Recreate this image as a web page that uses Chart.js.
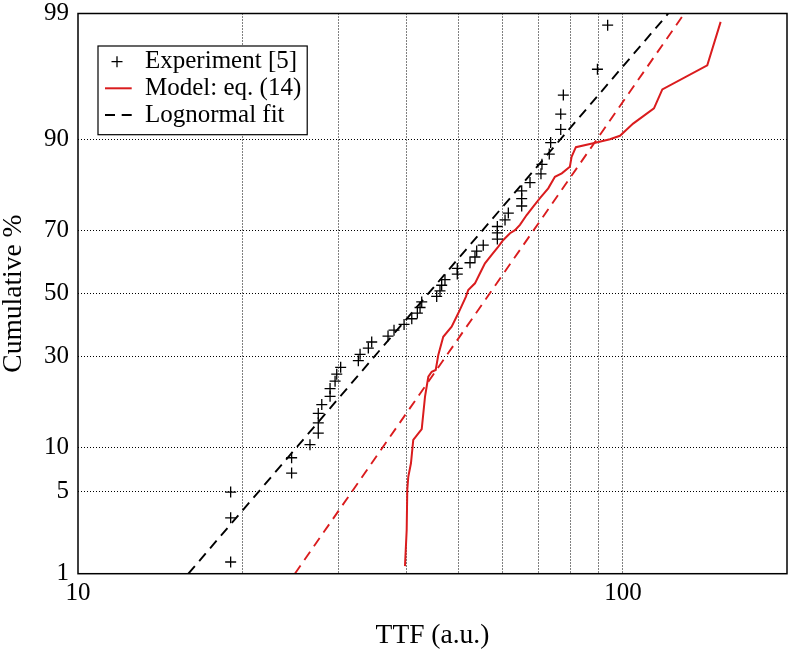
<!DOCTYPE html>
<html><head><meta charset="utf-8">
<script src="https://cdn.jsdelivr.net/npm/chart.js@4.4.1/dist/chart.umd.min.js"></script>
<style>html,body{margin:0;padding:0;background:#fff}#wrap{width:788px;height:652px;position:relative}</style>
</head><body><div id="wrap"><canvas id="c" width="788" height="652"></canvas></div>
<script>
// ---- data ----
const expTTF = [19.06,19.06,19.06,24.66,24.66,26.65,27.60,27.60,27.60,28.01,29.01,29.01,29.63,29.84,30.34,32.69,32.93,34.10,34.59,37.06,38.01,39.66,40.97,41.95,42.43,42.73,45.52,46.16,46.49,47.14,49.66,49.66,52.40,53.51,53.90,55.42,58.82,58.82,58.82,60.76,61.61,65.19,65.19,65.19,67.52,70.72,71.02,73.25,73.68,76.88,76.88,77.73,89.78,93.74];
const expPct = [1.29,3.13,4.96,6.80,8.64,10.48,12.32,14.15,15.99,17.83,19.67,21.51,23.35,25.18,27.02,28.86,30.70,32.54,34.38,36.21,38.05,39.89,41.73,43.57,45.40,47.24,49.08,50.92,52.76,54.60,56.43,58.27,60.11,61.95,63.79,65.63,67.46,69.30,71.14,72.98,74.82,76.65,78.49,80.33,82.17,84.01,85.85,87.68,89.52,91.36,93.20,95.04,96.88,98.71];
const modelTTF = [39.81,40.10,40.20,40.37,40.83,41.23,42.73,43.33,43.94,44.57,45.33,45.83,46.80,48.49,49.86,51.51,52.01,53.51,54.66,55.82,57.42,59.06,60.32,62.05,63.37,64.71,66.57,68.45,70.42,72.93,75.02,77.22,79.91,80.49,81.96,88.21,94.65,98.74,104.4,114.0,118.1,142.8,151.1];
const modelPct = [1.18,2.48,5.14,6.41,7.94,11.2,13.0,19.6,24.5,25.8,26.3,30.5,36.0,39.2,43.5,49.0,51.2,53.4,56.7,59.9,62.6,65.2,67.2,69.2,70.1,71.6,74.3,76.5,78.6,80.9,83.4,84.1,85.4,87.2,88.8,89.4,90.0,90.5,92.1,93.8,95.5,97.1,98.8];
const fitTTF = [15.94, 121.1];
const fitPct = [1, 99];
const modelFitTTF = [25.0, 129.6];
const modelFitPct = [1, 99];
const yTickPct = [1, 5, 10, 30, 50, 70, 90, 99];
const xTickVals = [10, 20, 30, 40, 50, 60, 70, 80, 90, 100, 200];
const xTickLabels = {10: '10', 100: '100'};
const seriesLabels = ['Experiment [5]', 'Model: eq. (14)', 'Lognormal fit'];
const xTitle = 'TTF (a.u.)';
const yTitle = 'Cumulative %';

// inverse normal CDF (probability scale)
function probit(p){
  const a=[-3.969683028665376e+01,2.209460984245205e+02,-2.759285104469687e+02,1.383577518672690e+02,-3.066479806614716e+01,2.506628277459239e+00];
  const b=[-5.447609879822406e+01,1.615858368580409e+02,-1.556989798598866e+02,6.680131188771972e+01,-1.328068155288572e+01];
  const c=[-7.784894002430293e-03,-3.223964580411365e-01,-2.400758277161838e+00,-2.549732539343734e+00,4.374664141464968e+00,2.938163982698783e+00];
  const d=[7.784695709041462e-03,3.224671290700398e-01,2.445134137142996e+00,3.754408661907416e+00];
  const pl=0.02425, ph=1-pl; let q,r;
  if(p<pl){q=Math.sqrt(-2*Math.log(p));return (((((c[0]*q+c[1])*q+c[2])*q+c[3])*q+c[4])*q+c[5])/((((d[0]*q+d[1])*q+d[2])*q+d[3])*q+1);}
  if(p<=ph){q=p-0.5;r=q*q;return (((((a[0]*r+a[1])*r+a[2])*r+a[3])*r+a[4])*r+a[5])*q/(((((b[0]*r+b[1])*r+b[2])*r+b[3])*r+b[4])*r+1);}
  q=Math.sqrt(-2*Math.log(1-p));return -(((((c[0]*q+c[1])*q+c[2])*q+c[3])*q+c[4])*q+c[5])/((((d[0]*q+d[1])*q+d[2])*q+d[3])*q+1);
}
const pts = (xs, ps) => xs.map((x, i) => ({x: x, y: probit(ps[i] / 100)}));

const RED = 'rgb(218,28,30)';
const FONT = "'Liberation Serif', 'Times New Roman', serif";
const DASH = [10, 6.7];

const framePlugin = {
  id: 'frameLegend',
  afterDatasetsDraw(chart){
    const {ctx, chartArea: a} = chart;
    ctx.save();
    ctx.strokeStyle = '#000'; ctx.lineWidth = 1.5; ctx.setLineDash([]);
    ctx.strokeRect(a.left, a.top, a.right - a.left, a.bottom - a.top);
    ctx.restore();
  },
  afterDraw(chart){
    const {ctx, chartArea: a} = chart;
    ctx.save();
    ctx.font = "25px " + FONT;
    const bx = a.left + 20, by = a.top + 32.5;
    const textX = bx + 47;
    let maxW = 0;
    seriesLabels.forEach(t => { maxW = Math.max(maxW, ctx.measureText(t).width); });
    const bw = textX + maxW + 6 - bx, bh = 88.7;
    ctx.fillStyle = '#fff';
    ctx.fillRect(bx, by, bw, bh);
    ctx.strokeStyle = '#000'; ctx.lineWidth = 1.2;
    ctx.strokeRect(bx, by, bw, bh);
    const rows = [by + 15.7, by + 42.3, by + 69];
    ctx.lineWidth = 1.3;
    ctx.beginPath();
    ctx.moveTo(bx + 19 - 5.5, rows[0]); ctx.lineTo(bx + 19 + 5.5, rows[0]);
    ctx.moveTo(bx + 19, rows[0] - 5.5); ctx.lineTo(bx + 19, rows[0] + 5.5);
    ctx.stroke();
    ctx.strokeStyle = RED; ctx.lineWidth = 2;
    ctx.beginPath(); ctx.moveTo(bx + 7, rows[1]); ctx.lineTo(bx + 33.7, rows[1]); ctx.stroke();
    ctx.strokeStyle = '#000'; ctx.setLineDash(DASH);
    ctx.beginPath(); ctx.moveTo(bx + 7, rows[2]); ctx.lineTo(bx + 33.7, rows[2]); ctx.stroke();
    ctx.setLineDash([]);
    ctx.fillStyle = '#000'; ctx.textBaseline = 'middle'; ctx.textAlign = 'left';
    seriesLabels.forEach((t, i) => ctx.fillText(t, textX, rows[i]));
    ctx.restore();
  }
};

const zeroPad = s => { s.paddingTop = 0; s.paddingBottom = 0; s.paddingLeft = 0; s.paddingRight = 0; };

new Chart(document.getElementById('c'), {
  type: 'scatter',
  data: {
    datasets: [
      {label: seriesLabels[0], data: pts(expTTF, expPct), showLine: false,
       pointStyle: 'cross', pointRadius: 5.5, pointBorderWidth: 1.3, pointBorderColor: '#000', pointBackgroundColor: '#000'},
      {label: seriesLabels[1], data: pts(modelTTF, modelPct), showLine: true, borderColor: RED, borderWidth: 2,
       pointRadius: 0, tension: 0, fill: false},
      {label: seriesLabels[2], data: pts(fitTTF, fitPct), showLine: true, borderColor: '#000', borderWidth: 1.9,
       borderDash: DASH, pointRadius: 0, fill: false},
      {label: 'model fit', data: pts(modelFitTTF, modelFitPct), showLine: true, borderColor: RED, borderWidth: 1.9,
       borderDash: DASH, pointRadius: 0, fill: false}
    ]
  },
  options: {
    responsive: false, animation: false, events: [],
    layout: {autoPadding: false, padding: {top: 13.5, right: 1, left: 0, bottom: 0}},
    plugins: {legend: {display: false}, tooltip: {enabled: false}},
    scales: {
      x: {
        type: 'logarithmic', min: 10, max: 200,
        afterBuildTicks: s => { s.ticks = xTickVals.map(v => ({value: v})); },
        afterFit: s => { s.height = 652 - 573.7; zeroPad(s); },
        ticks: {autoSkip: false, maxRotation: 0, minRotation: 0, padding: 4.6, color: '#000',
                font: {family: FONT, size: 25, lineHeight: 1.2},
                callback: v => (xTickLabels[v] !== undefined ? xTickLabels[v] : '')},
        grid: {drawTicks: false, lineWidth: 1,
               color: c => (c.tick && (c.tick.value === 10 || c.tick.value === 200)) ? 'rgba(0,0,0,0)' : '#000'},
        border: {display: false, dash: [1, 2]},
        title: {display: true, text: xTitle, color: '#000', padding: {top: 0, bottom: 2},
                font: {family: FONT, size: 27.5, lineHeight: 1}}
      },
      y: {
        type: 'linear', min: probit(0.01), max: probit(0.99),
        afterBuildTicks: s => { s.ticks = yTickPct.map(p => ({value: probit(p / 100)})); },
        afterFit: s => { s.width = 78; zeroPad(s); },
        ticks: {autoSkip: false, padding: 9, color: '#000',
                font: {family: FONT, size: 25, lineHeight: 1},
                callback: (v, i) => String(yTickPct[i])},
        grid: {drawTicks: false, lineWidth: 1,
               color: c => (c.index === 0 || c.index === yTickPct.length - 1) ? 'rgba(0,0,0,0)' : '#000'},
        border: {display: false, dash: [1, 2]},
        title: {display: true, text: yTitle, color: '#000', padding: {top: 0, bottom: 0},
                font: {family: FONT, size: 27.5, lineHeight: 1}}
      }
    }
  },
  plugins: [framePlugin]
});
</script>
</body></html>
